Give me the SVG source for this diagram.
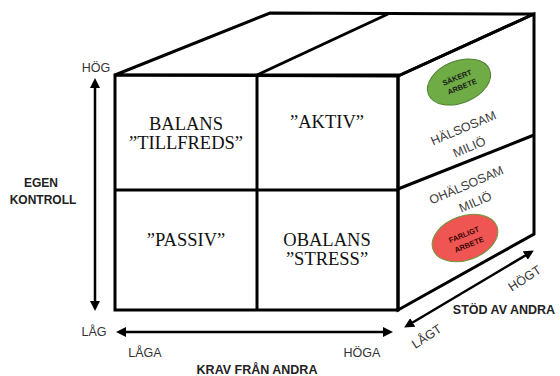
<svg xmlns="http://www.w3.org/2000/svg" width="560" height="376" viewBox="0 0 560 376">
<defs>
<style>
.edge{fill:none;stroke:#000;stroke-width:3;stroke-linejoin:miter}
.arr{fill:none;stroke:#000;stroke-width:2.5}
.cell{font-family:"Liberation Serif","Times New Roman",serif;font-size:18.5px;fill:#111;text-anchor:middle}
.lbl{font-family:"Liberation Sans",Arial,sans-serif;font-size:12.5px;fill:#333;text-anchor:middle}
.ttl{font-family:"Liberation Sans",Arial,sans-serif;font-size:12px;font-weight:bold;fill:#222;text-anchor:middle}
.side{font-family:"Liberation Sans",Arial,sans-serif;font-size:12.5px;fill:#404040;text-anchor:middle}
.tag{font-family:"Liberation Sans",Arial,sans-serif;font-size:7.5px;font-weight:bold;text-anchor:middle}
</style>
<marker id="ah" viewBox="0 0 10 10" refX="6" refY="5" markerWidth="4" markerHeight="4" orient="auto-start-reverse" markerUnits="strokeWidth">
<path d="M0,0 L10,5 L0,10 Z" fill="#000"/>
</marker>
</defs>
<rect width="560" height="376" fill="#fff"/>

<g id="cube">
<polygon class="edge" points="115,75 270,13 534,14 398,76"/>
<line class="edge" x1="257" y1="75" x2="388" y2="14"/>
<polygon class="edge" points="398,76 534,14 534,234 398,310"/>
<line class="edge" x1="398" y1="189" x2="534" y2="135"/>
<rect class="edge" x="115" y="75" width="283" height="235"/>
<line class="edge" x1="257" y1="75" x2="257" y2="310"/>
<line class="edge" x1="115" y1="190" x2="398" y2="190"/>
</g>

<g id="balans">
<text class="cell" x="186" y="130">BALANS</text>
<text class="cell" x="186" y="149">”TILLFREDS”</text>
</g>
<g id="aktiv">
<text class="cell" x="327" y="128">”AKTIV”</text>
</g>
<g id="passiv">
<text class="cell" x="186" y="246">”PASSIV”</text>
</g>
<g id="obalans">
<text class="cell" x="327" y="246">OBALANS</text>
<text class="cell" x="327" y="265">”STRESS”</text>
</g>

<g id="halsosam">
<text class="side" transform="translate(465,132) rotate(-23)">HÄLSOSAM</text>
<text class="side" transform="translate(471,151) rotate(-23)">MILIÖ</text>
</g>
<g id="ohalsosam">
<text class="side" transform="translate(468,189) rotate(-23)">OHÄLSOSAM</text>
<text class="side" transform="translate(477,206) rotate(-23)">MILIÖ</text>
</g>
<g id="sakert">
<ellipse cx="459" cy="82" rx="33" ry="21" transform="rotate(-22 459 82)" fill="#6FAC46" stroke="#4E7F30" stroke-width="1"/>
<text class="tag" fill="#1a1a1a" transform="translate(458,80) rotate(-22)">SÄKERT</text>
<text class="tag" fill="#1a1a1a" transform="translate(463,89) rotate(-22)">ARBETE</text>
</g>
<g id="farligt">
<ellipse cx="465" cy="238" rx="34" ry="22" transform="rotate(-20 465 238)" fill="#EF5552" stroke="#6E9A3C" stroke-width="1"/>
<text class="tag" fill="#3a0505" transform="translate(465,237) rotate(-22)">FARLIGT</text>
<text class="tag" fill="#3a0505" transform="translate(470,247) rotate(-22)">ARBETE</text>
</g>

<g id="connectors">
<line class="arr" x1="95" y1="82" x2="95" y2="307" marker-start="url(#ah)" marker-end="url(#ah)"/>
<line class="arr" x1="120" y1="332" x2="389" y2="332" marker-start="url(#ah)" marker-end="url(#ah)"/>
<line class="arr" x1="407.6" y1="325.5" x2="530.4" y2="252.5" marker-start="url(#ah)" marker-end="url(#ah)"/>
</g>

<g id="labels">
<text class="lbl" x="96" y="71.5">HÖG</text>
<text class="lbl" x="94" y="335.5">LÅG</text>
<text class="ttl" x="41" y="187">EGEN</text>
<text class="ttl" x="43" y="204">KONTROLL</text>
<text class="lbl" x="145" y="356.5">LÅGA</text>
<text class="lbl" x="362" y="356.5">HÖGA</text>
<text class="ttl" x="257" y="373.5" style="font-size:12.5px">KRAV FRÅN ANDRA</text>
<text class="ttl" x="504" y="314" style="font-size:12.5px">STÖD AV ANDRA</text>
<text class="lbl" transform="translate(527,282) rotate(-33)">HÖGT</text>
<text class="lbl" transform="translate(429,340) rotate(-33)">LÅGT</text>
</g>
</svg>
